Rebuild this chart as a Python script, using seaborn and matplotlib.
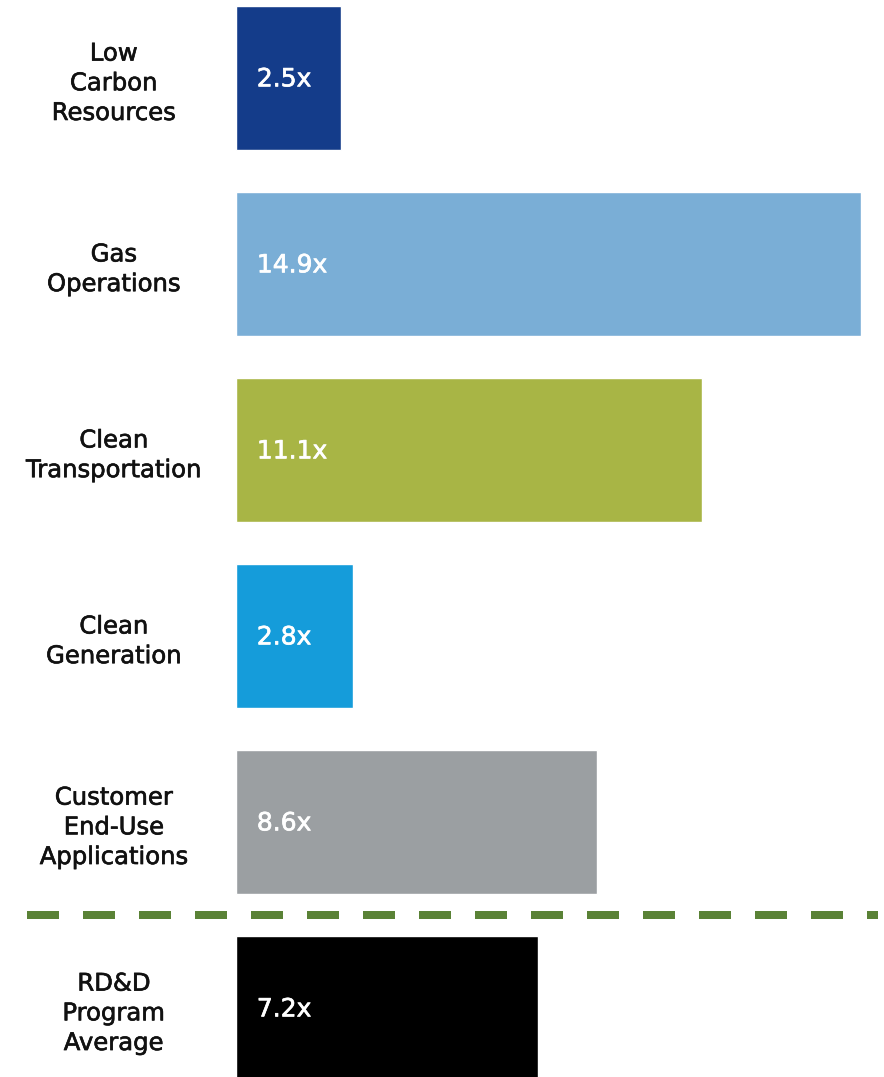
import matplotlib
matplotlib.use("Agg")
import matplotlib.pyplot as plt
import matplotlib.transforms as mtransforms
import matplotlib.patheffects as pe
import seaborn as sns
import pandas as pd

categories = ["Low\nCarbon\nResources", "Gas\nOperations", "Clean\nTransportation",
              "Clean\nGeneration", "Customer\nEnd-Use\nApplications", "RD&D\nProgram\nAverage"]
values = [2.5, 14.9, 11.1, 2.8, 8.6, 7.2]
value_labels = ["2.5x", "14.9x", "11.1x", "2.8x", "8.6x", "7.2x"]
colors = ["#143C8A", "#7AAED6", "#A8B545", "#159CDA", "#9B9FA2", "#000000"]

sns.set_theme(style="white")
plt.rcParams['font.family'] = ['DejaVu Sans']

df = pd.DataFrame({"category": categories, "value": values})

fig = plt.figure(figsize=(8.84, 10.77), dpi=100)
ax = fig.add_axes([236 / 884, 0, (861 - 236) / 884, 1])

sns.barplot(data=df, x="value", y="category", hue="category", palette=colors,
            legend=False, width=0.774, orient="h", ax=ax, saturation=1)

ax.set_xlim(0, 14.9)
ax.set_ylim(5.371, -0.419)
ax.set_xlabel("")
ax.set_ylabel("")
ax.set_xticks([])
for s in ax.spines.values():
    s.set_visible(False)

ax.tick_params(axis="y", length=0, pad=88)
for lab in ax.get_yticklabels():
    lab.set_horizontalalignment("center")
    lab.set_multialignment("center")
    lab.set_fontsize(17.5)
    lab.set_color("#111111")
    lab.set_linespacing(1.3)
    lab.set_path_effects([pe.withStroke(linewidth=0.45, foreground="#111111")])

for i, txt in enumerate(value_labels):
    ax.annotate(txt, xy=(0, i), xytext=(15, -1), textcoords="offset points",
                ha="left", va="center", color="white", fontsize=18,
                path_effects=[pe.withStroke(linewidth=0.5, foreground="white")])

trans = mtransforms.blended_transform_factory(fig.transFigure, ax.transData)
ax.plot([27 / 884, 878 / 884], [4.5, 4.5], transform=trans, color="#5A8236",
        linewidth=5.76, dashes=(4, 3), solid_capstyle="butt", dash_capstyle="butt",
        clip_on=False)

fig.savefig("out.png", dpi=100)
